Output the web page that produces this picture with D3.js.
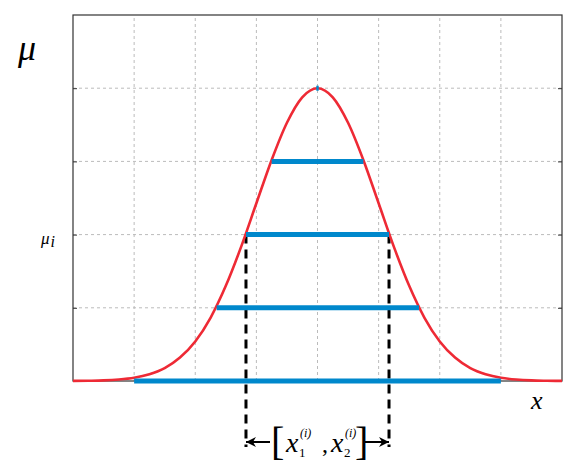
<!DOCTYPE html>
<html>
<head>
<meta charset="utf-8">
<script src="https://cdn.jsdelivr.net/npm/d3@7"></script>
<style>
body { margin: 0; background: #fff; }
text { font-family: "Liberation Serif", "DejaVu Serif", serif; }
</style>
</head>
<body>
<div id="chart"></div>
<script>
// curva de pertenencia
var curveX = [0,0.25,0.5,0.75,1,1.25,1.5,1.75,2,2.25,2.5,2.75,3,3.25,3.5,3.75,4,
              4.25,4.5,4.75,5,5.25,5.5,5.75,6,6.25,6.5,6.75,7,7.25,7.5,7.75,8];
var curveMu = [0.0003,0.0009,0.002,0.005,0.011,0.023,0.044,0.080,0.135,0.216,0.325,0.458,0.607,0.755,0.882,0.969,1,
               0.969,0.882,0.755,0.607,0.458,0.325,0.216,0.135,0.080,0.044,0.023,0.011,0.005,0.002,0.0009,0.0003];
// cortes alfa
var cutLevels = [0, 0.25, 0.5, 0.75, 1];
var cutLeft = [1, 2.35, 2.83, 3.25, 3.98];
var cutRight = [7, 5.66, 5.17, 4.75, 4.02];
var xTicks = [1, 2, 3, 4, 5, 6, 7];
var yTicks = [0.25, 0.5, 0.75, 1];
var muI = 0.5;

var width = 585, height = 475;
var svg = d3.select("#chart").append("svg").attr("width", width).attr("height", height);

var x = d3.scaleLinear().domain([0, 8]).range([73, 562]);
var y = d3.scaleLinear().domain([0, 1.25]).range([381, 15]);

// rejilla
svg.selectAll(".vg").data(xTicks).enter().append("line")
    .attr("x1", d => x(d)).attr("x2", d => x(d)).attr("y1", y(0)).attr("y2", y(1.25))
    .attr("stroke", "#bbb").attr("stroke-dasharray", "3,3");
svg.selectAll(".hg").data(yTicks).enter().append("line")
    .attr("x1", x(0)).attr("x2", x(8)).attr("y1", d => y(d)).attr("y2", d => y(d))
    .attr("stroke", "#bbb").attr("stroke-dasharray", "3,3");

// ejes
var yAxisL = d3.axisLeft(y).tickValues(yTicks).tickSize(-4).tickFormat("");
var yAxisR = d3.axisRight(y).tickValues(yTicks).tickSize(-4).tickFormat("");
svg.append("g").attr("transform", "translate(" + x(0) + ",0)").call(yAxisL);
svg.append("g").attr("transform", "translate(" + x(8) + ",0)").call(yAxisR);
svg.selectAll(".domain").remove();
svg.selectAll(".tick line").attr("stroke", "#333");
svg.append("rect").attr("x", x(0)).attr("y", y(1.25))
    .attr("width", x(8) - x(0)).attr("height", y(0) - y(1.25))
    .attr("fill", "none").attr("stroke", "#333").attr("stroke-width", 1.2);

// lineas punteadas
[0, 1].forEach(function(k) {
    var xv = k === 0 ? cutLeft[2] : cutRight[2];
    svg.append("line").attr("x1", x(xv)).attr("x2", x(xv)).attr("y1", y(muI)).attr("y2", 447)
        .attr("stroke", "#000").attr("stroke-width", 3).attr("stroke-dasharray", "9,6");
});

// curva
var line = d3.line().x((d, i) => x(curveX[i])).y(d => y(d)).curve(d3.curveMonotoneX);
svg.append("path").datum(curveMu).attr("d", line)
    .attr("fill", "none").attr("stroke", "#ee2a35").attr("stroke-width", 2.6);

// barras de cortes
svg.selectAll(".cut").data(cutLevels).enter().append("line")
    .attr("x1", (d, i) => x(cutLeft[i])).attr("x2", (d, i) => x(cutRight[i]))
    .attr("y1", d => y(d)).attr("y2", d => y(d))
    .attr("stroke", "#0088cc").attr("stroke-width", 5);

// flechas
var defs = svg.append("defs");
defs.append("marker").attr("id", "ah").attr("viewBox", "0 0 10 10").attr("refX", 10).attr("refY", 5)
    .attr("markerWidth", 6).attr("markerHeight", 5).attr("orient", "auto")
    .append("path").attr("d", "M0,0L10,5L0,10L3,5z").attr("fill", "#000");
var ay = 442;
svg.append("line").attr("x1", 270).attr("x2", x(cutLeft[2])).attr("y1", ay).attr("y2", ay)
    .attr("stroke", "#000").attr("stroke-width", 2).attr("marker-end", "url(#ah)");
svg.append("line").attr("x1", 365).attr("x2", x(cutRight[2])).attr("y1", ay).attr("y2", ay)
    .attr("stroke", "#000").attr("stroke-width", 2).attr("marker-end", "url(#ah)");

// textos
svg.append("text").attr("x", 18).attr("y", 60).attr("font-size", 36).attr("font-style", "italic")
    .attr("font-family", "DejaVu Serif").text("μ");
svg.append("text").attr("x", 41).attr("y", 244).attr("font-size", 17).attr("font-style", "italic")
    .attr("font-family", "DejaVu Serif").html('μ<tspan dx="1" dy="3" font-size="16">i</tspan>');
svg.append("text").attr("x", 531).attr("y", 409).attr("font-size", 26).attr("font-style", "italic").text("x");

// etiqueta del intervalo
svg.append("text").attr("x", 271).attr("y", 455).attr("font-size", 40).attr("font-weight", 300).text("[");
svg.append("text").attr("x", 355).attr("y", 455).attr("font-size", 40).attr("font-weight", 300).text("]");
[[286, "1"], [331, "2"]].forEach(function(p, k) {
    svg.append("text").attr("x", p[0]).attr("y", 452).attr("font-size", 28).attr("font-style", "italic").text("x");
    svg.append("text").attr("x", p[0] + 14).attr("y", 437).attr("font-size", 12).attr("font-style", "italic").text("(i)");
    svg.append("text").attr("x", p[0] + 13).attr("y", 457).attr("font-size", 13).text(p[1]);
});
svg.append("text").attr("x", 322).attr("y", 452).attr("font-size", 24).text(",");
</script>
</body>
</html>
